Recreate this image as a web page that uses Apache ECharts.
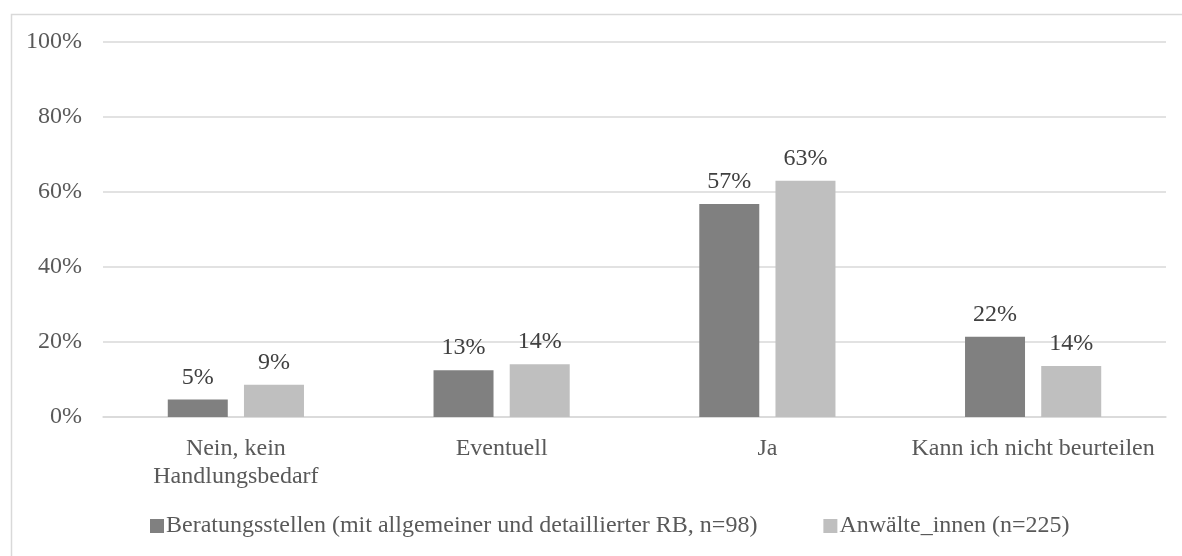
<!DOCTYPE html>
<html>
<head>
    <meta charset="utf-8">
    <title>Handlungsbedarf</title>
    <script src="https://cdn.jsdelivr.net/npm/echarts@6/dist/echarts.min.js"></script>
</head>
<style>
    html, body, #main {
        width: 100%;
        height: 100%;
        margin: 0;
        background: #fff;
    }
</style>
<body>
<div id='main'></div>
<script>
    var categories = ['Nein, kein\nHandlungsbedarf', 'Eventuell', 'Ja', 'Kann ich nicht beurteilen'];
    var beratungValues = [4.7, 12.5, 56.8, 21.4];
    var beratungLabels = ['5%', '13%', '57%', '22%'];
    var anwaelteValues = [8.6, 14.1, 63.0, 13.6];
    var anwaelteLabels = ['9%', '14%', '63%', '14%'];
    var seriesNames = ['Beratungsstellen (mit allgemeiner und detaillierter RB, n=98)', 'Anwälte_innen (n=225)'];

    var fontFam = '"Liberation Serif", "Times New Roman", serif';
    var txtColor = '#595959';

    var chart = echarts.init(document.getElementById('main'));
    var option = {
        animation: false,
        textStyle: {fontFamily: fontFam},
        graphic: [{
            type: 'rect',
            left: 9,
            top: 12,
            shape: {width: 1300, height: 700},
            style: {fill: 'none', stroke: '#d9d9d9', lineWidth: 1.5}
        }],
        grid: {left: 103, right: 16, top: 42, bottom: 139},
        legend: {
            bottom: 13,
            left: 145,
            itemWidth: 14,
            itemHeight: 14,
            itemGap: 66,
            icon: 'rect',
            textStyle: {fontFamily: fontFam, fontSize: 24, color: txtColor, padding: [0, 0, 0, -3]},
            data: seriesNames
        },
        xAxis: {
            type: 'category',
            data: categories,
            axisLine: {lineStyle: {color: '#d9d9d9', width: 1.5}},
            axisTick: {show: false},
            axisLabel: {fontFamily: fontFam, fontSize: 24, color: txtColor, margin: 18, lineHeight: 28, interval: 0}
        },
        yAxis: {
            type: 'value',
            min: 0,
            max: 100,
            interval: 20,
            axisLabel: {formatter: '{value}%', fontFamily: fontFam, fontSize: 24, color: txtColor, margin: 21},
            splitLine: {lineStyle: {color: '#d9d9d9', width: 1.5}}
        },
        series: [{
            name: seriesNames[0],
            type: 'bar',
            barWidth: 60,
            barGap: '27%',
            itemStyle: {color: '#808080'},
            label: {
                show: true, position: 'top', distance: 10,
                fontFamily: fontFam, fontSize: 24, color: '#404040',
                formatter: function (p) { return beratungLabels[p.dataIndex]; }
            },
            data: beratungValues
        }, {
            name: seriesNames[1],
            type: 'bar',
            barWidth: 60,
            itemStyle: {color: '#bfbfbf'},
            label: {
                show: true, position: 'top', distance: 10,
                fontFamily: fontFam, fontSize: 24, color: '#404040',
                formatter: function (p) { return anwaelteLabels[p.dataIndex]; }
            },
            data: anwaelteValues
        }]
    };
    chart.setOption(option);
    window.onresize = chart.resize;
</script>
</body>
</html>
